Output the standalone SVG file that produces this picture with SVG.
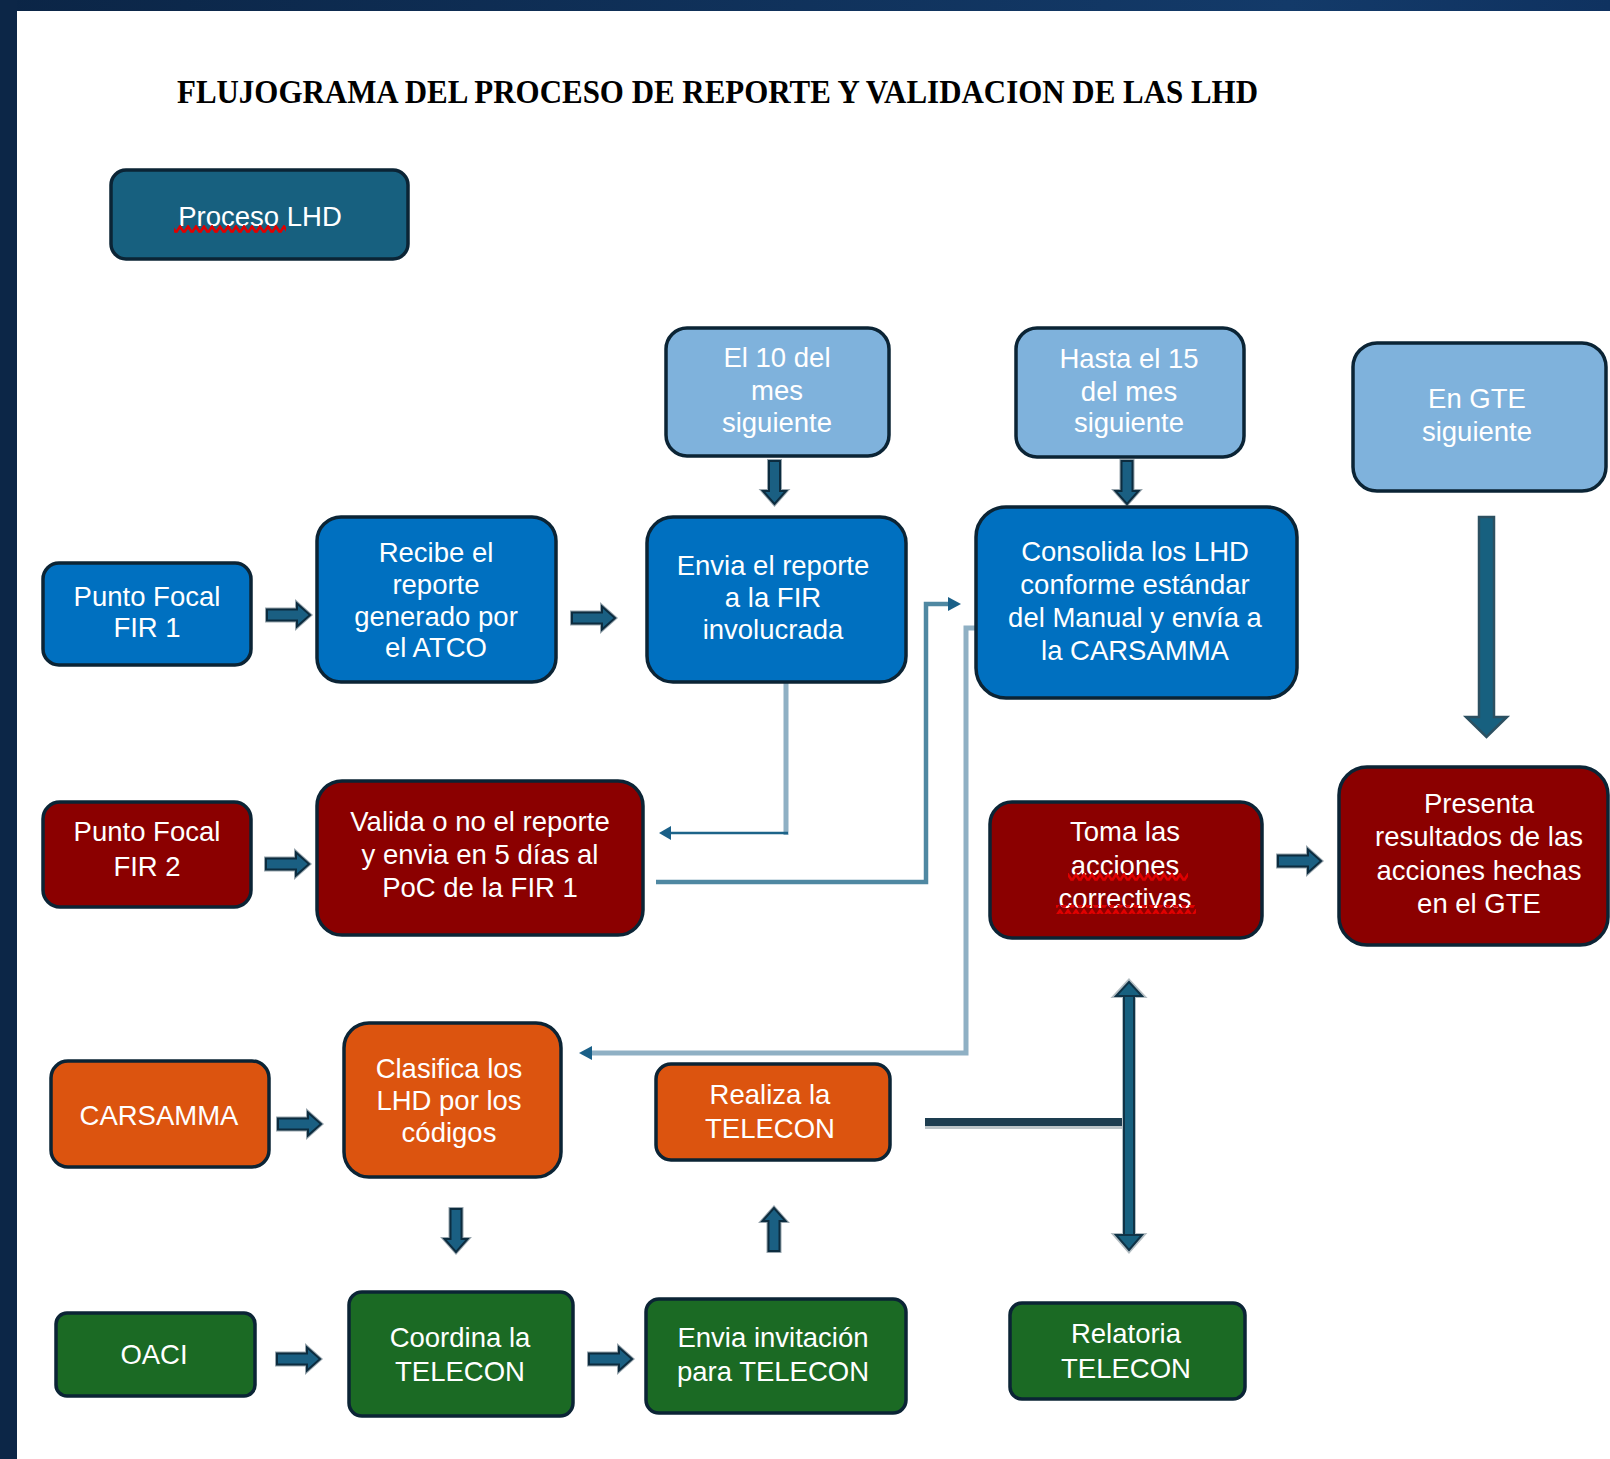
<svg xmlns="http://www.w3.org/2000/svg" xmlns:xlink="http://www.w3.org/1999/xlink" width="1610" height="1459" viewBox="0 0 1610 1459">
<style>
.box{stroke:#0b2435;stroke-width:3.5}
.lb{fill:#7fb2dc}
.bl{fill:#0070c0}
.rd{fill:#8b0000}
.or{fill:#dc540f}
.gr{fill:#1b6a24}
.tl{fill:#17607f}
.t{font-family:"Liberation Sans",Arial,sans-serif;font-size:27.5px;fill:#ffffff;text-anchor:middle}
.thin-l{fill:none;stroke:#8fb0c4;stroke-width:5}
.thin-d{fill:none;stroke:#4f88a2;stroke-width:4.5}
.thin-dk{fill:none;stroke:#1d6489;stroke-width:2.5}
.head{fill:#1a6088}
</style>
<defs>
<linearGradient id="band" x1="0" y1="0" x2="1" y2="0">
<stop offset="0" stop-color="#0b2546"/>
<stop offset="0.8" stop-color="#133a69"/>
<stop offset="1" stop-color="#0f3260"/>
</linearGradient>
<pattern id="squig" width="8" height="9" patternUnits="userSpaceOnUse">
<path d="M0,7.5 L4,1.5 L8,7.5" fill="none" stroke="#e00000" stroke-width="2.6"/>
</pattern>
<g id="ar">
<path d="M0,-5.5 H30 V-11.5 L43,0 L30,11.5 V5.5 H0 Z" fill="none" stroke="#98a5ad" stroke-width="4"/>
<path d="M0,-5.5 H30 V-11.5 L43,0 L30,11.5 V5.5 H0 Z" fill="#1a5f82" stroke="#0c2c3f" stroke-width="2"/>
</g>
</defs>

<rect x="0" y="0" width="1610" height="1459" fill="#ffffff"/>
<rect x="0" y="0" width="1610" height="11" fill="url(#band)"/>
<rect x="0" y="0" width="17" height="1459" fill="#0c2647"/>

<text x="177" y="103" font-family="'Liberation Serif','Times New Roman',serif" font-weight="bold" font-size="34" fill="#000000" textLength="1081" lengthAdjust="spacingAndGlyphs">FLUJOGRAMA DEL PROCESO DE REPORTE Y VALIDACION DE LAS LHD</text>

<g id="connectors">
<path class="thin-l" d="M786,682 V835"/>
<path class="thin-dk" d="M788,833 H668"/>
<polygon class="head" points="659,833 671,826 671,840"/>
<path class="thin-d" d="M656,882 H926 V604 H950"/>
<polygon class="head" points="961,604 948,597 948,611"/>
<path class="thin-l" d="M976,628 H966 V1053 H590"/>
<polygon class="head" points="579,1053 592,1046 592,1060"/>
<path d="M925,1127 H1122" stroke="#bcc4c8" stroke-width="4" fill="none"/>
<path d="M925,1122 H1126" stroke="#1d3d50" stroke-width="8" fill="none"/>
<path d="M1124,996 H1134 V1235 H1124 Z M1129,981 L1143,996 L1115,996 Z M1129,1251 L1143,1235 L1115,1235 Z" fill="none" stroke="#b4bec3" stroke-width="4"/>
<path d="M1124,995 H1134 V1236 H1124 Z" fill="#17607f" stroke="#0f3347" stroke-width="2"/>
<polygon points="1129,982 1142,996 1116,996" fill="#17607f" stroke="#0f3347" stroke-width="2"/>
<polygon points="1129,1250 1142,1235 1116,1235" fill="#17607f" stroke="#0f3347" stroke-width="2"/>
<path d="M1479,517 H1494 V717 H1507 L1486.5,737 L1466,717 H1479 Z" fill="#17607f" stroke="#2c5061" stroke-width="2.5"/>
<use xlink:href="#ar" href="#ar" transform="translate(267,615)"/>
<use xlink:href="#ar" href="#ar" transform="translate(572,618)"/>
<use xlink:href="#ar" href="#ar" transform="translate(266,864)"/>
<use xlink:href="#ar" href="#ar" transform="translate(278,1124)"/>
<use xlink:href="#ar" href="#ar" transform="translate(1278,861)"/>
<use xlink:href="#ar" href="#ar" transform="translate(277,1359)"/>
<use xlink:href="#ar" href="#ar" transform="translate(589,1359)"/>
<use xlink:href="#ar" href="#ar" transform="translate(774.5,461) rotate(90)"/>
<use xlink:href="#ar" href="#ar" transform="translate(1127,461) rotate(90)"/>
<use xlink:href="#ar" href="#ar" transform="translate(456,1209) rotate(90)"/>
<use xlink:href="#ar" href="#ar" transform="translate(774,1251) rotate(-90)"/>
</g>

<g id="n-proceso">
<rect class="box tl" x="111" y="170" width="297" height="89" rx="15"/>
<text class="t" x="260" y="226">Proceso LHD</text>
<rect x="174" y="224" width="112" height="9" fill="url(#squig)"/>
</g>

<g id="n-el10">
<rect class="box lb" x="666" y="328" width="223" height="128" rx="21"/>
<text class="t"><tspan x="777" y="367">El 10 del</tspan><tspan x="777" y="400">mes</tspan><tspan x="777" y="432">siguiente</tspan></text>
</g>

<g id="n-hasta">
<rect class="box lb" x="1016" y="328" width="228" height="129" rx="21"/>
<text class="t"><tspan x="1129" y="368">Hasta el 15</tspan><tspan x="1129" y="401">del mes</tspan><tspan x="1129" y="432">siguiente</tspan></text>
</g>

<g id="n-gte">
<rect class="box lb" x="1353" y="343" width="253" height="148" rx="24"/>
<text class="t"><tspan x="1477" y="408">En GTE</tspan><tspan x="1477" y="441">siguiente</tspan></text>
</g>

<g id="n-fir1">
<rect class="box bl" x="43" y="563" width="208" height="102" rx="16"/>
<text class="t"><tspan x="147" y="606">Punto Focal</tspan><tspan x="147" y="637">FIR 1</tspan></text>
</g>

<g id="n-recibe">
<rect class="box bl" x="317" y="517" width="239" height="165" rx="24"/>
<text class="t"><tspan x="436" y="562">Recibe el</tspan><tspan x="436" y="594">reporte</tspan><tspan x="436" y="626">generado por</tspan><tspan x="436" y="657">el ATCO</tspan></text>
</g>

<g id="n-envia">
<rect class="box bl" x="647" y="517" width="259" height="165" rx="26"/>
<text class="t"><tspan x="773" y="575">Envia el reporte</tspan><tspan x="773" y="607">a la FIR</tspan><tspan x="773" y="639">involucrada</tspan></text>
</g>

<g id="n-consolida">
<rect class="box bl" x="976" y="507" width="321" height="191" rx="30"/>
<text class="t"><tspan x="1135" y="561">Consolida los LHD</tspan><tspan x="1135" y="594">conforme estándar</tspan><tspan x="1135" y="627">del Manual y envía a</tspan><tspan x="1135" y="660">la CARSAMMA</tspan></text>
</g>

<g id="n-fir2">
<rect class="box rd" x="43" y="802" width="208" height="105" rx="17"/>
<text class="t"><tspan x="147" y="841">Punto Focal</tspan><tspan x="147" y="876">FIR 2</tspan></text>
</g>

<g id="n-valida">
<rect class="box rd" x="317" y="781" width="326" height="154" rx="25"/>
<text class="t"><tspan x="480" y="831">Valida o no el reporte</tspan><tspan x="480" y="864">y envia en 5 días al</tspan><tspan x="480" y="897">PoC de la FIR 1</tspan></text>
</g>

<g id="n-toma">
<rect class="box rd" x="990" y="802" width="272" height="136" rx="22"/>
<text class="t"><tspan x="1125" y="841">Toma las</tspan><tspan x="1125" y="875">acciones</tspan><tspan x="1125" y="908">correctivas</tspan></text>
<rect x="1068" y="873" width="120" height="9" fill="url(#squig)"/>
<rect x="1056" y="905" width="140" height="9" fill="url(#squig)"/>
</g>

<g id="n-presenta">
<rect class="box rd" x="1339" y="767" width="269" height="178" rx="28"/>
<text class="t"><tspan x="1479" y="813">Presenta</tspan><tspan x="1479" y="846">resultados de las</tspan><tspan x="1479" y="880">acciones hechas</tspan><tspan x="1479" y="913">en el GTE</tspan></text>
</g>

<g id="n-carsamma">
<rect class="box or" x="51" y="1061" width="218" height="106" rx="17"/>
<text class="t" x="159" y="1125">CARSAMMA</text>
</g>

<g id="n-clasifica">
<rect class="box or" x="344" y="1023" width="217" height="154" rx="25"/>
<text class="t"><tspan x="449" y="1078">Clasifica los</tspan><tspan x="449" y="1110">LHD por los</tspan><tspan x="449" y="1142">códigos</tspan></text>
</g>

<g id="n-realiza">
<rect class="box or" x="656" y="1064" width="234" height="96" rx="15"/>
<text class="t"><tspan x="770" y="1104">Realiza la</tspan><tspan x="770" y="1138">TELECON</tspan></text>
</g>

<g id="n-oaci">
<rect class="box gr" x="56" y="1313" width="199" height="83" rx="11"/>
<text class="t" x="154" y="1364">OACI</text>
</g>

<g id="n-coordina">
<rect class="box gr" x="349" y="1292" width="224" height="124" rx="13"/>
<text class="t"><tspan x="460" y="1347">Coordina la</tspan><tspan x="460" y="1381">TELECON</tspan></text>
</g>

<g id="n-enviainv">
<rect class="box gr" x="646" y="1299" width="260" height="114" rx="13"/>
<text class="t"><tspan x="773" y="1347">Envia invitación</tspan><tspan x="773" y="1381">para TELECON</tspan></text>
</g>

<g id="n-relatoria">
<rect class="box gr" x="1010" y="1303" width="235" height="96" rx="12"/>
<text class="t"><tspan x="1126" y="1343">Relatoria</tspan><tspan x="1126" y="1378">TELECON</tspan></text>
</g>
</svg>
